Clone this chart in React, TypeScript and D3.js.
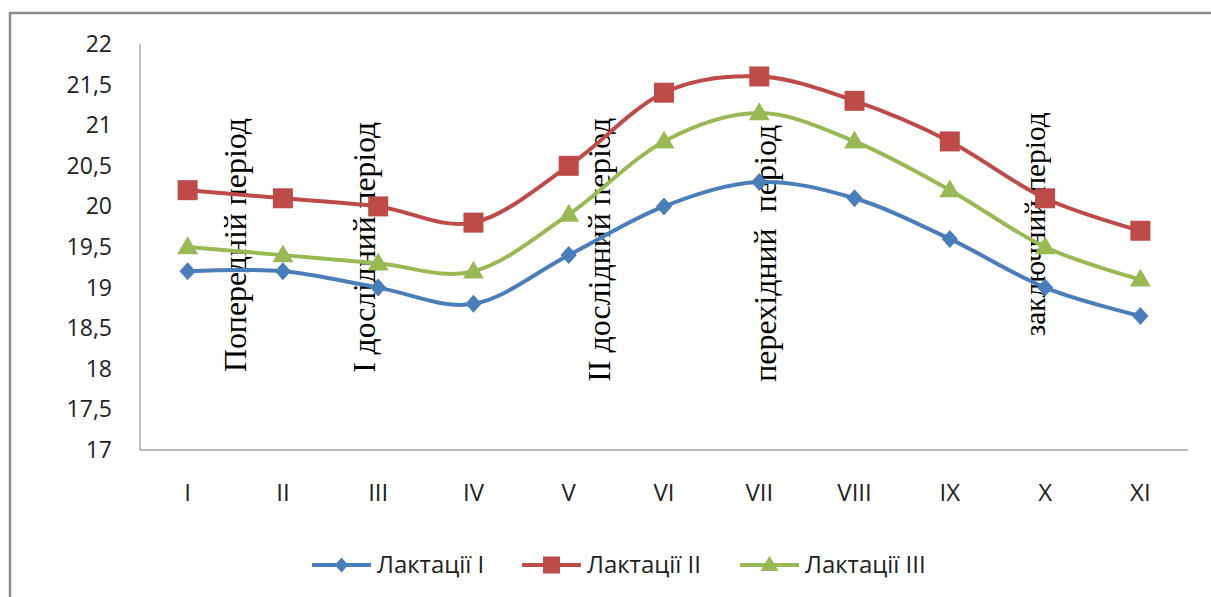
import React from 'react';
import * as d3 from 'd3';

const months = ['I', 'II', 'III', 'IV', 'V', 'VI', 'VII', 'VIII', 'IX', 'X', 'XI'];
const lact1 = [19.2, 19.2, 19.0, 18.8, 19.4, 20.0, 20.3, 20.1, 19.6, 19.0, 18.65];
const lact2 = [20.2, 20.1, 20.0, 19.8, 20.5, 21.4, 21.6, 21.3, 20.8, 20.1, 19.7];
const lact3 = [19.5, 19.4, 19.3, 19.2, 19.9, 20.8, 21.15, 20.8, 20.2, 19.5, 19.1];
const yTicks = [17, 17.5, 18, 18.5, 19, 19.5, 20, 20.5, 21, 21.5, 22];

// period captions: where they sit, in category index / value units
const periodNames = ['Попередній період', 'І дослідний період', 'ІІ дослідний період', 'перехідний  період', 'заключний період'];
const periodAt = [0.5, 1.86, 4.32, 6.06, 8.9];
const periodFrom = [17.96, 17.95, 17.84, 17.84, 18.4];

const W = 1211;
const H = 597;
const left = 140, right = 1188, top = 44, bottom = 450;

const series = [
  { name: 'Лактації І', values: lact1, color: '#4a7ebb', marker: 'diamond' },
  { name: 'Лактації ІІ', values: lact2, color: '#be4b48', marker: 'square' },
  { name: 'Лактації ІІІ', values: lact3, color: '#98b954', marker: 'triangle' },
];

const x = d3.scaleBand<string>().domain(months).range([left, right]);
const xi = d3.scaleLinear().domain([0, months.length - 1])
  .range([x(months[0])! + x.bandwidth() / 2, x(months[months.length - 1])! + x.bandwidth() / 2]);
const y = d3.scaleLinear().domain([17, 22]).range([bottom, top]);

const line = d3.line<number>()
  .x((d, i) => xi(i))
  .y((d) => y(d))
  .curve(d3.curveCardinal.tension(0));

function Marker({ kind, cx, cy, color, s }: { kind: string; cx: number; cy: number; color: string; s: number }) {
  if (kind === 'square') {
    return <rect x={cx - s / 2} y={cy - s / 2} width={s} height={s} fill={color} />;
  }
  if (kind === 'triangle') {
    const h = s * 0.85;
    return <path d={`M${cx},${cy - h * 0.6}L${cx + s / 2},${cy + h * 0.4}L${cx - s / 2},${cy + h * 0.4}Z`} fill={color} />;
  }
  const r = s / 2;
  return <path d={`M${cx},${cy - r}L${cx + r * 0.9},${cy}L${cx},${cy + r}L${cx - r * 0.9},${cy}Z`} fill={color} />;
}

const markerSize: Record<string, number> = { diamond: 18, square: 20, triangle: 21 };
const legendSize: Record<string, number> = { diamond: 15, square: 17, triangle: 18 };
const legendX = [312, 522, 740];
const labelLens = [254, 251, 264, 257, 224];

export default function App() {
  const sans = '"Open Sans", "Noto Sans", sans-serif';
  return (
    <svg width={W} height={H} style={{ position: 'absolute', left: 0, top: 0, background: '#fff' }}>
      <rect x={10} y={13} width={W + 40} height={H + 40} fill="#fff" stroke="#8c8c8c" strokeWidth={2.5} />

      {/* axes */}
      <line x1={left} x2={left} y1={top} y2={bottom} stroke="#a6a6a6" strokeWidth={1.5} />
      <line x1={left} x2={right} y1={bottom} y2={bottom} stroke="#a6a6a6" strokeWidth={1.5} />

      {yTicks.map((t) => (
        <text key={t} x={112} y={y(t)} dy="0.35em" textAnchor="end" fontFamily={sans} fontSize={23} fill="#222">
          {String(t).replace('.', ',')}
        </text>
      ))}
      {months.map((m) => (
        <text key={m} x={x(m)! + x.bandwidth() / 2} y={493} dy="0.35em" textAnchor="middle" fontFamily={sans} fontSize={24} fill="#222">
          {m}
        </text>
      ))}

      {/* period captions */}
      {periodNames.map((p, i) => (
        <text
          key={p}
          transform={`translate(${xi(periodAt[i])},${y(periodFrom[i])}) rotate(-90)`}
          dy="0.33em"
          fontFamily='"Liberation Serif", "Times New Roman", serif'
          fontSize={i === 4 ? 29 : 32}
          textLength={labelLens[i]}
          lengthAdjust="spacingAndGlyphs"
          fill="#000"
          style={{ whiteSpace: 'pre' }}
        >
          {p}
        </text>
      ))}

      {/* series */}
      {series.map((s) => (
        <g key={s.name}>
          <path d={line(s.values)!} fill="none" stroke={s.color} strokeWidth={4} />
          {s.values.map((v, i) => (
            <Marker key={i} kind={s.marker} cx={xi(i)} cy={y(v)} color={s.color} s={markerSize[s.marker]} />
          ))}
        </g>
      ))}

      {/* legend */}
      {series.map((s, i) => (
        <g key={s.name} transform={`translate(${legendX[i]},565)`}>
          <line x1={0} x2={59} y1={0} y2={0} stroke={s.color} strokeWidth={4} />
          <Marker kind={s.marker} cx={29.5} cy={0} color={s.color} s={legendSize[s.marker]} />
          <text x={65} y={0} dy="0.35em" fontFamily={sans} fontSize={24} fill="#222">{s.name}</text>
        </g>
      ))}
    </svg>
  );
}
